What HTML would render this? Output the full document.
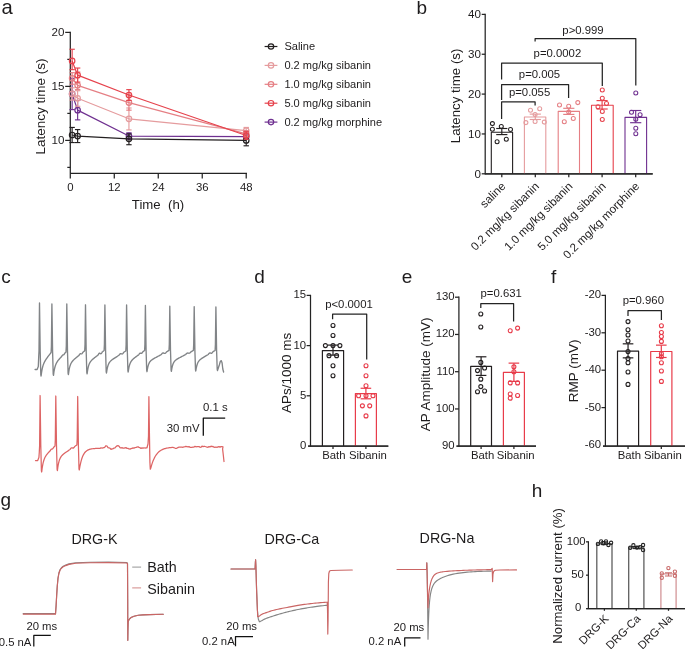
<!DOCTYPE html>
<html><head><meta charset="utf-8"><style>
html,body{margin:0;padding:0;background:#fff;overflow:hidden;width:685px;height:649px;}
svg{display:block;font-family:"Liberation Sans", sans-serif;will-change:transform;}
</style></head><body>
<svg width="685" height="649" viewBox="0 0 685 649">
<rect width="685" height="649" fill="#fff"/>
<text x="1.60" y="14.00" font-size="20.2" text-anchor="start" fill="#1e1c1d" >a</text>
<text x="416.60" y="13.90" font-size="19" text-anchor="start" fill="#1e1c1d" >b</text>
<text x="1.20" y="282.80" font-size="19" text-anchor="start" fill="#1e1c1d" >c</text>
<text x="254.30" y="282.70" font-size="19" text-anchor="start" fill="#1e1c1d" >d</text>
<text x="401.80" y="282.80" font-size="19" text-anchor="start" fill="#1e1c1d" >e</text>
<text x="551.00" y="282.80" font-size="19" text-anchor="start" fill="#1e1c1d" >f</text>
<text x="0.50" y="506.40" font-size="19" text-anchor="start" fill="#1e1c1d" >g</text>
<text x="531.70" y="496.70" font-size="19" text-anchor="start" fill="#1e1c1d" >h</text>
<line x1="70.30" y1="31.80" x2="70.30" y2="178.60" stroke="#242424" stroke-width="1.25"/>
<line x1="70.30" y1="173.30" x2="247.00" y2="173.30" stroke="#242424" stroke-width="1.25"/>
<line x1="65.20" y1="140.40" x2="70.30" y2="140.40" stroke="#242424" stroke-width="1.25"/>
<text x="64.50" y="144.35" font-size="11.6" text-anchor="end" fill="#1e1c1d" >10</text>
<line x1="65.20" y1="86.40" x2="70.30" y2="86.40" stroke="#242424" stroke-width="1.25"/>
<text x="64.50" y="90.35" font-size="11.6" text-anchor="end" fill="#1e1c1d" >15</text>
<line x1="65.20" y1="32.40" x2="70.30" y2="32.40" stroke="#242424" stroke-width="1.25"/>
<text x="64.50" y="36.35" font-size="11.6" text-anchor="end" fill="#1e1c1d" >20</text>
<line x1="67.30" y1="167.40" x2="70.30" y2="167.40" stroke="#242424" stroke-width="1.25"/>
<line x1="67.30" y1="113.40" x2="70.30" y2="113.40" stroke="#242424" stroke-width="1.25"/>
<line x1="67.30" y1="59.40" x2="70.30" y2="59.40" stroke="#242424" stroke-width="1.25"/>
<line x1="114.28" y1="173.30" x2="114.28" y2="178.60" stroke="#242424" stroke-width="1.25"/>
<line x1="158.26" y1="173.30" x2="158.26" y2="178.60" stroke="#242424" stroke-width="1.25"/>
<line x1="202.24" y1="173.30" x2="202.24" y2="178.60" stroke="#242424" stroke-width="1.25"/>
<line x1="246.22" y1="173.30" x2="246.22" y2="178.60" stroke="#242424" stroke-width="1.25"/>
<text x="70.30" y="190.60" font-size="11.35" text-anchor="middle" fill="#1e1c1d" >0</text>
<text x="114.28" y="190.60" font-size="11.35" text-anchor="middle" fill="#1e1c1d" >12</text>
<text x="158.26" y="190.60" font-size="11.35" text-anchor="middle" fill="#1e1c1d" >24</text>
<text x="202.24" y="190.60" font-size="11.35" text-anchor="middle" fill="#1e1c1d" >36</text>
<text x="246.22" y="190.60" font-size="11.35" text-anchor="middle" fill="#1e1c1d" >48</text>
<text x="158.00" y="209.30" font-size="13.2" text-anchor="middle" fill="#1e1c1d" >Time&#160;&#160;(h)</text>
<text transform="translate(45.00,106.50) rotate(-90)" font-size="13.5" text-anchor="middle" fill="#1e1c1d">Latency time (s)</text>
<polyline points="72.13,93.96 77.63,110.16 128.94,136.08 246.22,136.62" fill="none" stroke="#6f3090" stroke-width="1.2" stroke-linejoin="round" />
<line x1="72.13" y1="78.30" x2="72.13" y2="109.62" stroke="#6f3090" stroke-width="1.15"/>
<line x1="69.43" y1="78.30" x2="74.83" y2="78.30" stroke="#6f3090" stroke-width="1.15"/>
<line x1="69.43" y1="109.62" x2="74.83" y2="109.62" stroke="#6f3090" stroke-width="1.15"/>
<circle cx="72.13" cy="93.96" r="2.75" fill="none" stroke="#6f3090" stroke-width="1.2"/>
<line x1="77.63" y1="100.44" x2="77.63" y2="119.88" stroke="#6f3090" stroke-width="1.15"/>
<line x1="74.93" y1="100.44" x2="80.33" y2="100.44" stroke="#6f3090" stroke-width="1.15"/>
<line x1="74.93" y1="119.88" x2="80.33" y2="119.88" stroke="#6f3090" stroke-width="1.15"/>
<circle cx="77.63" cy="110.16" r="2.75" fill="none" stroke="#6f3090" stroke-width="1.2"/>
<line x1="128.94" y1="132.84" x2="128.94" y2="139.32" stroke="#6f3090" stroke-width="1.15"/>
<line x1="126.24" y1="132.84" x2="131.64" y2="132.84" stroke="#6f3090" stroke-width="1.15"/>
<line x1="126.24" y1="139.32" x2="131.64" y2="139.32" stroke="#6f3090" stroke-width="1.15"/>
<circle cx="128.94" cy="136.08" r="2.75" fill="none" stroke="#6f3090" stroke-width="1.2"/>
<line x1="246.22" y1="133.92" x2="246.22" y2="139.32" stroke="#6f3090" stroke-width="1.15"/>
<line x1="243.52" y1="133.92" x2="248.92" y2="133.92" stroke="#6f3090" stroke-width="1.15"/>
<line x1="243.52" y1="139.32" x2="248.92" y2="139.32" stroke="#6f3090" stroke-width="1.15"/>
<circle cx="246.22" cy="136.62" r="2.75" fill="none" stroke="#6f3090" stroke-width="1.2"/>
<polyline points="72.13,135.00 77.63,136.08 128.94,138.78 246.22,140.40" fill="none" stroke="#231f20" stroke-width="1.2" stroke-linejoin="round" />
<line x1="72.13" y1="127.44" x2="72.13" y2="142.56" stroke="#231f20" stroke-width="1.15"/>
<line x1="69.43" y1="127.44" x2="74.83" y2="127.44" stroke="#231f20" stroke-width="1.15"/>
<line x1="69.43" y1="142.56" x2="74.83" y2="142.56" stroke="#231f20" stroke-width="1.15"/>
<circle cx="72.13" cy="135.00" r="2.75" fill="none" stroke="#231f20" stroke-width="1.2"/>
<line x1="77.63" y1="129.60" x2="77.63" y2="142.56" stroke="#231f20" stroke-width="1.15"/>
<line x1="74.93" y1="129.60" x2="80.33" y2="129.60" stroke="#231f20" stroke-width="1.15"/>
<line x1="74.93" y1="142.56" x2="80.33" y2="142.56" stroke="#231f20" stroke-width="1.15"/>
<circle cx="77.63" cy="136.08" r="2.75" fill="none" stroke="#231f20" stroke-width="1.2"/>
<line x1="128.94" y1="133.92" x2="128.94" y2="144.72" stroke="#231f20" stroke-width="1.15"/>
<line x1="126.24" y1="133.92" x2="131.64" y2="133.92" stroke="#231f20" stroke-width="1.15"/>
<line x1="126.24" y1="144.72" x2="131.64" y2="144.72" stroke="#231f20" stroke-width="1.15"/>
<circle cx="128.94" cy="138.78" r="2.75" fill="none" stroke="#231f20" stroke-width="1.2"/>
<line x1="246.22" y1="136.08" x2="246.22" y2="145.80" stroke="#231f20" stroke-width="1.15"/>
<line x1="243.52" y1="136.08" x2="248.92" y2="136.08" stroke="#231f20" stroke-width="1.15"/>
<line x1="243.52" y1="145.80" x2="248.92" y2="145.80" stroke="#231f20" stroke-width="1.15"/>
<circle cx="246.22" cy="140.40" r="2.75" fill="none" stroke="#231f20" stroke-width="1.2"/>
<polyline points="72.13,93.96 77.63,98.28 128.94,118.80 246.22,130.68" fill="none" stroke="#e59c9e" stroke-width="1.2" stroke-linejoin="round" />
<line x1="72.13" y1="87.80" x2="72.13" y2="100.12" stroke="#e59c9e" stroke-width="1.15"/>
<line x1="69.43" y1="87.80" x2="74.83" y2="87.80" stroke="#e59c9e" stroke-width="1.15"/>
<line x1="69.43" y1="100.12" x2="74.83" y2="100.12" stroke="#e59c9e" stroke-width="1.15"/>
<circle cx="72.13" cy="93.96" r="2.75" fill="none" stroke="#e59c9e" stroke-width="1.2"/>
<line x1="77.63" y1="90.72" x2="77.63" y2="106.27" stroke="#e59c9e" stroke-width="1.15"/>
<line x1="74.93" y1="90.72" x2="80.33" y2="90.72" stroke="#e59c9e" stroke-width="1.15"/>
<line x1="74.93" y1="106.27" x2="80.33" y2="106.27" stroke="#e59c9e" stroke-width="1.15"/>
<circle cx="77.63" cy="98.28" r="2.75" fill="none" stroke="#e59c9e" stroke-width="1.2"/>
<line x1="128.94" y1="108.00" x2="128.94" y2="129.92" stroke="#e59c9e" stroke-width="1.15"/>
<line x1="126.24" y1="108.00" x2="131.64" y2="108.00" stroke="#e59c9e" stroke-width="1.15"/>
<line x1="126.24" y1="129.92" x2="131.64" y2="129.92" stroke="#e59c9e" stroke-width="1.15"/>
<circle cx="128.94" cy="118.80" r="2.75" fill="none" stroke="#e59c9e" stroke-width="1.2"/>
<line x1="246.22" y1="127.44" x2="246.22" y2="133.92" stroke="#e59c9e" stroke-width="1.15"/>
<line x1="243.52" y1="127.44" x2="248.92" y2="127.44" stroke="#e59c9e" stroke-width="1.15"/>
<line x1="243.52" y1="133.92" x2="248.92" y2="133.92" stroke="#e59c9e" stroke-width="1.15"/>
<circle cx="246.22" cy="130.68" r="2.75" fill="none" stroke="#e59c9e" stroke-width="1.2"/>
<polyline points="72.13,78.30 77.63,85.32 128.94,102.60 246.22,133.92" fill="none" stroke="#e57f84" stroke-width="1.2" stroke-linejoin="round" />
<line x1="72.13" y1="72.68" x2="72.13" y2="84.24" stroke="#e57f84" stroke-width="1.15"/>
<line x1="69.43" y1="72.68" x2="74.83" y2="72.68" stroke="#e57f84" stroke-width="1.15"/>
<line x1="69.43" y1="84.24" x2="74.83" y2="84.24" stroke="#e57f84" stroke-width="1.15"/>
<circle cx="72.13" cy="78.30" r="2.75" fill="none" stroke="#e57f84" stroke-width="1.2"/>
<line x1="77.63" y1="72.04" x2="77.63" y2="89.64" stroke="#e57f84" stroke-width="1.15"/>
<line x1="74.93" y1="72.04" x2="80.33" y2="72.04" stroke="#e57f84" stroke-width="1.15"/>
<line x1="74.93" y1="89.64" x2="80.33" y2="89.64" stroke="#e57f84" stroke-width="1.15"/>
<circle cx="77.63" cy="85.32" r="2.75" fill="none" stroke="#e57f84" stroke-width="1.2"/>
<line x1="128.94" y1="95.04" x2="128.94" y2="110.16" stroke="#e57f84" stroke-width="1.15"/>
<line x1="126.24" y1="95.04" x2="131.64" y2="95.04" stroke="#e57f84" stroke-width="1.15"/>
<line x1="126.24" y1="110.16" x2="131.64" y2="110.16" stroke="#e57f84" stroke-width="1.15"/>
<circle cx="128.94" cy="102.60" r="2.75" fill="none" stroke="#e57f84" stroke-width="1.2"/>
<line x1="246.22" y1="130.68" x2="246.22" y2="137.16" stroke="#e57f84" stroke-width="1.15"/>
<line x1="243.52" y1="130.68" x2="248.92" y2="130.68" stroke="#e57f84" stroke-width="1.15"/>
<line x1="243.52" y1="137.16" x2="248.92" y2="137.16" stroke="#e57f84" stroke-width="1.15"/>
<circle cx="246.22" cy="133.92" r="2.75" fill="none" stroke="#e57f84" stroke-width="1.2"/>
<polyline points="72.13,60.91 77.63,75.17 128.94,95.04 246.22,135.54" fill="none" stroke="#e6424c" stroke-width="1.2" stroke-linejoin="round" />
<line x1="72.13" y1="49.25" x2="72.13" y2="69.66" stroke="#e6424c" stroke-width="1.15"/>
<line x1="69.43" y1="49.25" x2="74.83" y2="49.25" stroke="#e6424c" stroke-width="1.15"/>
<line x1="69.43" y1="69.66" x2="74.83" y2="69.66" stroke="#e6424c" stroke-width="1.15"/>
<circle cx="72.13" cy="60.91" r="2.75" fill="none" stroke="#e6424c" stroke-width="1.2"/>
<line x1="77.63" y1="68.04" x2="77.63" y2="82.08" stroke="#e6424c" stroke-width="1.15"/>
<line x1="74.93" y1="68.04" x2="80.33" y2="68.04" stroke="#e6424c" stroke-width="1.15"/>
<line x1="74.93" y1="82.08" x2="80.33" y2="82.08" stroke="#e6424c" stroke-width="1.15"/>
<circle cx="77.63" cy="75.17" r="2.75" fill="none" stroke="#e6424c" stroke-width="1.2"/>
<line x1="128.94" y1="89.64" x2="128.94" y2="100.44" stroke="#e6424c" stroke-width="1.15"/>
<line x1="126.24" y1="89.64" x2="131.64" y2="89.64" stroke="#e6424c" stroke-width="1.15"/>
<line x1="126.24" y1="100.44" x2="131.64" y2="100.44" stroke="#e6424c" stroke-width="1.15"/>
<circle cx="128.94" cy="95.04" r="2.75" fill="none" stroke="#e6424c" stroke-width="1.2"/>
<line x1="246.22" y1="131.76" x2="246.22" y2="139.32" stroke="#e6424c" stroke-width="1.15"/>
<line x1="243.52" y1="131.76" x2="248.92" y2="131.76" stroke="#e6424c" stroke-width="1.15"/>
<line x1="243.52" y1="139.32" x2="248.92" y2="139.32" stroke="#e6424c" stroke-width="1.15"/>
<circle cx="246.22" cy="135.54" r="2.75" fill="none" stroke="#e6424c" stroke-width="1.2"/>
<line x1="264.60" y1="46.50" x2="277.40" y2="46.50" stroke="#231f20" stroke-width="1.2"/>
<circle cx="271.00" cy="46.50" r="2.7" fill="none" stroke="#231f20" stroke-width="1.2"/>
<text x="284.40" y="50.30" font-size="11.05" text-anchor="start" fill="#1e1c1d" >Saline</text>
<line x1="264.60" y1="65.40" x2="277.40" y2="65.40" stroke="#e59c9e" stroke-width="1.2"/>
<circle cx="271.00" cy="65.40" r="2.7" fill="none" stroke="#e59c9e" stroke-width="1.2"/>
<text x="284.40" y="69.20" font-size="11.05" text-anchor="start" fill="#1e1c1d" >0.2 mg/kg sibanin</text>
<line x1="264.60" y1="84.30" x2="277.40" y2="84.30" stroke="#e57f84" stroke-width="1.2"/>
<circle cx="271.00" cy="84.30" r="2.7" fill="none" stroke="#e57f84" stroke-width="1.2"/>
<text x="284.40" y="88.10" font-size="11.05" text-anchor="start" fill="#1e1c1d" >1.0 mg/kg sibanin</text>
<line x1="264.60" y1="103.20" x2="277.40" y2="103.20" stroke="#e6424c" stroke-width="1.2"/>
<circle cx="271.00" cy="103.20" r="2.7" fill="none" stroke="#e6424c" stroke-width="1.2"/>
<text x="284.40" y="107.00" font-size="11.05" text-anchor="start" fill="#1e1c1d" >5.0 mg/kg sibanin</text>
<line x1="264.60" y1="122.10" x2="277.40" y2="122.10" stroke="#6f3090" stroke-width="1.2"/>
<circle cx="271.00" cy="122.10" r="2.7" fill="none" stroke="#6f3090" stroke-width="1.2"/>
<text x="284.40" y="125.90" font-size="11.05" text-anchor="start" fill="#1e1c1d" >0.2 mg/kg morphine</text>
<line x1="485.20" y1="13.80" x2="485.20" y2="174.40" stroke="#242424" stroke-width="1.25"/>
<line x1="485.20" y1="173.80" x2="652.70" y2="173.80" stroke="#242424" stroke-width="1.25"/>
<line x1="481.70" y1="173.80" x2="485.20" y2="173.80" stroke="#242424" stroke-width="1.25"/>
<text x="480.90" y="177.80" font-size="11.6" text-anchor="end" fill="#1e1c1d" >0</text>
<line x1="481.70" y1="133.95" x2="485.20" y2="133.95" stroke="#242424" stroke-width="1.25"/>
<text x="480.90" y="137.95" font-size="11.6" text-anchor="end" fill="#1e1c1d" >10</text>
<line x1="481.70" y1="94.10" x2="485.20" y2="94.10" stroke="#242424" stroke-width="1.25"/>
<text x="480.90" y="98.10" font-size="11.6" text-anchor="end" fill="#1e1c1d" >20</text>
<line x1="481.70" y1="54.25" x2="485.20" y2="54.25" stroke="#242424" stroke-width="1.25"/>
<text x="480.90" y="58.25" font-size="11.6" text-anchor="end" fill="#1e1c1d" >30</text>
<line x1="481.70" y1="14.40" x2="485.20" y2="14.40" stroke="#242424" stroke-width="1.25"/>
<text x="480.90" y="18.40" font-size="11.6" text-anchor="end" fill="#1e1c1d" >40</text>
<text transform="translate(460.00,95.90) rotate(-90)" font-size="13.3" text-anchor="middle" fill="#1e1c1d">Latency time (s)</text>
<polyline points="491.30,173.80 491.30,132.30 512.60,132.30 512.60,173.80" fill="none" stroke="#231f20" stroke-width="1.1" stroke-linejoin="round" stroke-linejoin="miter"/>
<line x1="501.80" y1="173.80" x2="501.80" y2="177.20" stroke="#242424" stroke-width="1.25"/>
<circle cx="492.40" cy="123.60" r="2.0" fill="none" stroke="#231f20" stroke-width="1.05"/>
<circle cx="492.40" cy="129.20" r="2.0" fill="none" stroke="#231f20" stroke-width="1.05"/>
<circle cx="501.30" cy="126.40" r="2.0" fill="none" stroke="#231f20" stroke-width="1.05"/>
<circle cx="510.50" cy="129.50" r="2.0" fill="none" stroke="#231f20" stroke-width="1.05"/>
<circle cx="497.10" cy="141.80" r="2.0" fill="none" stroke="#231f20" stroke-width="1.05"/>
<circle cx="506.30" cy="139.20" r="2.0" fill="none" stroke="#231f20" stroke-width="1.05"/>
<line x1="501.80" y1="128.50" x2="501.80" y2="134.60" stroke="#231f20" stroke-width="1.15"/>
<line x1="496.20" y1="128.50" x2="507.40" y2="128.50" stroke="#231f20" stroke-width="1.15"/>
<line x1="496.20" y1="134.60" x2="507.40" y2="134.60" stroke="#231f20" stroke-width="1.15"/>
<text transform="translate(506.20,187.00) rotate(-45)" font-size="11.6" text-anchor="end" fill="#1e1c1d">saline</text>
<polyline points="524.40,173.80 524.40,117.00 545.80,117.00 545.80,173.80" fill="none" stroke="#e59c9e" stroke-width="1.1" stroke-linejoin="round" stroke-linejoin="miter"/>
<line x1="535.30" y1="173.80" x2="535.30" y2="177.20" stroke="#242424" stroke-width="1.25"/>
<circle cx="530.50" cy="110.30" r="2.0" fill="none" stroke="#e59c9e" stroke-width="1.05"/>
<circle cx="539.70" cy="108.80" r="2.0" fill="none" stroke="#e59c9e" stroke-width="1.05"/>
<circle cx="535.10" cy="114.40" r="2.0" fill="none" stroke="#e59c9e" stroke-width="1.05"/>
<circle cx="525.90" cy="122.60" r="2.0" fill="none" stroke="#e59c9e" stroke-width="1.05"/>
<circle cx="535.10" cy="121.40" r="2.0" fill="none" stroke="#e59c9e" stroke-width="1.05"/>
<circle cx="544.30" cy="122.10" r="2.0" fill="none" stroke="#e59c9e" stroke-width="1.05"/>
<line x1="535.30" y1="114.10" x2="535.30" y2="119.50" stroke="#e59c9e" stroke-width="1.15"/>
<line x1="529.70" y1="114.10" x2="540.90" y2="114.10" stroke="#e59c9e" stroke-width="1.15"/>
<line x1="529.70" y1="119.50" x2="540.90" y2="119.50" stroke="#e59c9e" stroke-width="1.15"/>
<text transform="translate(539.70,187.00) rotate(-45)" font-size="11.6" text-anchor="end" fill="#1e1c1d">0.2 mg/kg sibanin</text>
<polyline points="558.20,173.80 558.20,111.40 579.50,111.40 579.50,173.80" fill="none" stroke="#e57f84" stroke-width="1.1" stroke-linejoin="round" stroke-linejoin="miter"/>
<line x1="568.80" y1="173.80" x2="568.80" y2="177.20" stroke="#242424" stroke-width="1.25"/>
<circle cx="559.50" cy="104.90" r="2.0" fill="none" stroke="#e57f84" stroke-width="1.05"/>
<circle cx="568.70" cy="106.30" r="2.0" fill="none" stroke="#e57f84" stroke-width="1.05"/>
<circle cx="577.80" cy="102.60" r="2.0" fill="none" stroke="#e57f84" stroke-width="1.05"/>
<circle cx="568.70" cy="112.10" r="2.0" fill="none" stroke="#e57f84" stroke-width="1.05"/>
<circle cx="564.30" cy="121.80" r="2.0" fill="none" stroke="#e57f84" stroke-width="1.05"/>
<circle cx="573.30" cy="118.50" r="2.0" fill="none" stroke="#e57f84" stroke-width="1.05"/>
<line x1="568.80" y1="108.30" x2="568.80" y2="114.40" stroke="#e57f84" stroke-width="1.15"/>
<line x1="563.20" y1="108.30" x2="574.40" y2="108.30" stroke="#e57f84" stroke-width="1.15"/>
<line x1="563.20" y1="114.40" x2="574.40" y2="114.40" stroke="#e57f84" stroke-width="1.15"/>
<text transform="translate(573.20,187.00) rotate(-45)" font-size="11.6" text-anchor="end" fill="#1e1c1d">1.0 mg/kg sibanin</text>
<polyline points="591.50,173.80 591.50,105.20 613.20,105.20 613.20,173.80" fill="none" stroke="#e6424c" stroke-width="1.1" stroke-linejoin="round" stroke-linejoin="miter"/>
<line x1="602.10" y1="173.80" x2="602.10" y2="177.20" stroke="#242424" stroke-width="1.25"/>
<circle cx="602.30" cy="89.90" r="2.0" fill="none" stroke="#e6424c" stroke-width="1.05"/>
<circle cx="602.30" cy="98.30" r="2.0" fill="none" stroke="#e6424c" stroke-width="1.05"/>
<circle cx="606.50" cy="103.40" r="2.0" fill="none" stroke="#e6424c" stroke-width="1.05"/>
<circle cx="598.00" cy="106.70" r="2.0" fill="none" stroke="#e6424c" stroke-width="1.05"/>
<circle cx="602.30" cy="111.40" r="2.0" fill="none" stroke="#e6424c" stroke-width="1.05"/>
<circle cx="602.30" cy="119.40" r="2.0" fill="none" stroke="#e6424c" stroke-width="1.05"/>
<line x1="602.10" y1="100.60" x2="602.10" y2="109.00" stroke="#e6424c" stroke-width="1.15"/>
<line x1="596.50" y1="100.60" x2="607.70" y2="100.60" stroke="#e6424c" stroke-width="1.15"/>
<line x1="596.50" y1="109.00" x2="607.70" y2="109.00" stroke="#e6424c" stroke-width="1.15"/>
<text transform="translate(606.50,187.00) rotate(-45)" font-size="11.6" text-anchor="end" fill="#1e1c1d">5.0 mg/kg sibanin</text>
<polyline points="625.00,173.80 625.00,117.40 646.60,117.40 646.60,173.80" fill="none" stroke="#6f3090" stroke-width="1.1" stroke-linejoin="round" stroke-linejoin="miter"/>
<line x1="635.70" y1="173.80" x2="635.70" y2="177.20" stroke="#242424" stroke-width="1.25"/>
<circle cx="635.80" cy="92.90" r="2.0" fill="none" stroke="#6f3090" stroke-width="1.05"/>
<circle cx="631.50" cy="112.30" r="2.0" fill="none" stroke="#6f3090" stroke-width="1.05"/>
<circle cx="640.10" cy="114.70" r="2.0" fill="none" stroke="#6f3090" stroke-width="1.05"/>
<circle cx="635.80" cy="119.30" r="2.0" fill="none" stroke="#6f3090" stroke-width="1.05"/>
<circle cx="635.80" cy="128.20" r="2.0" fill="none" stroke="#6f3090" stroke-width="1.05"/>
<circle cx="635.80" cy="133.80" r="2.0" fill="none" stroke="#6f3090" stroke-width="1.05"/>
<line x1="635.70" y1="110.50" x2="635.70" y2="122.70" stroke="#6f3090" stroke-width="1.15"/>
<line x1="630.10" y1="110.50" x2="641.30" y2="110.50" stroke="#6f3090" stroke-width="1.15"/>
<line x1="630.10" y1="122.70" x2="641.30" y2="122.70" stroke="#6f3090" stroke-width="1.15"/>
<text transform="translate(640.10,187.00) rotate(-45)" font-size="11.6" text-anchor="end" fill="#1e1c1d">0.2 mg/kg morphine</text>
<line x1="485.20" y1="173.80" x2="652.70" y2="173.80" stroke="#242424" stroke-width="1.25"/>
<polyline points="501.60,119.00 501.60,101.90 535.10,101.90 535.10,105.60" fill="none" stroke="#242424" stroke-width="1.25" stroke-linejoin="round" stroke-linejoin="miter"/>
<polyline points="501.60,100.00 501.60,84.50 568.60,84.50 568.60,98.10" fill="none" stroke="#242424" stroke-width="1.25" stroke-linejoin="round" stroke-linejoin="miter"/>
<polyline points="501.60,79.50 501.60,63.00 602.30,63.00 602.30,86.00" fill="none" stroke="#242424" stroke-width="1.25" stroke-linejoin="round" stroke-linejoin="miter"/>
<polyline points="535.10,41.50 535.10,38.50 635.80,38.50 635.80,85.50" fill="none" stroke="#242424" stroke-width="1.25" stroke-linejoin="round" stroke-linejoin="miter"/>
<text x="529.60" y="95.70" font-size="11.35" text-anchor="middle" fill="#1e1c1d" >p=0.055</text>
<text x="539.50" y="77.60" font-size="11.35" text-anchor="middle" fill="#1e1c1d" >p=0.005</text>
<text x="557.40" y="56.70" font-size="11.35" text-anchor="middle" fill="#1e1c1d" >p=0.0002</text>
<text x="583.00" y="33.60" font-size="11.35" text-anchor="middle" fill="#1e1c1d" >p&gt;0.999</text>
<path d="M35.10,369.50 L37.10,369.50 L38.30,366.50 L38.70,357.00 L39.00,351.00 L39.50,303.00 L40.20,351.50 L40.80,374.80 L41.10,376.00 L41.50,372.85 L41.90,370.36 L42.30,368.36 L42.70,366.72 L43.10,365.37 L43.50,364.22 L43.90,363.23 L44.30,362.36 L44.70,361.57 L45.10,360.85 L45.50,360.19 L45.90,359.56 L46.30,358.95 L46.70,358.37 L47.10,357.81 L47.50,357.25 L47.90,356.71 L48.30,356.17 L48.70,355.64 L49.10,355.11 L49.50,354.59 L49.90,354.06 L50.30,353.54 L50.70,353.02 L51.10,352.50 L51.40,346.50 L51.90,304.00 L52.60,351.65 L53.20,374.10 L53.50,375.30 L53.90,372.26 L54.31,369.88 L54.71,367.99 L55.11,366.47 L55.52,365.23 L55.92,364.20 L56.32,363.32 L56.73,362.55 L57.13,361.88 L57.53,361.27 L57.94,360.71 L58.34,360.18 L58.74,359.69 L59.15,359.21 L59.55,358.75 L59.95,358.30 L60.35,357.86 L60.76,357.43 L61.16,357.00 L61.56,356.58 L61.97,355.85 L62.37,355.27 L62.77,355.01 L63.18,354.95 L63.58,354.87 L63.98,354.53 L64.39,353.88 L64.79,353.24 L65.19,352.83 L65.60,352.41 L66.00,352.00 L66.30,346.00 L66.80,304.00 L67.50,351.30 L68.10,373.40 L68.40,374.60 L68.81,371.57 L69.21,369.22 L69.62,367.38 L70.03,365.92 L70.44,364.75 L70.84,363.79 L71.25,363.00 L71.66,362.32 L72.07,361.72 L72.47,361.20 L72.88,360.73 L73.29,360.29 L73.70,359.88 L74.10,359.49 L74.51,359.12 L74.92,358.76 L75.33,358.40 L75.73,358.06 L76.14,357.71 L76.55,357.38 L76.96,357.04 L77.36,356.71 L77.77,356.38 L78.18,356.05 L78.59,355.72 L79.00,355.39 L79.40,354.62 L79.81,354.04 L80.22,353.74 L80.62,353.72 L81.03,353.84 L81.44,353.92 L81.85,353.80 L82.25,353.38 L82.66,352.71 L83.07,352.11 L83.48,351.78 L83.89,351.45 L84.29,351.13 L84.70,350.80 L85.00,344.80 L85.50,304.80 L86.20,351.30 L86.80,372.60 L87.10,373.80 L87.50,370.86 L87.91,368.59 L88.31,366.80 L88.72,365.39 L89.12,364.26 L89.53,363.33 L89.93,362.56 L90.34,361.91 L90.74,361.35 L91.15,360.85 L91.55,360.39 L91.96,359.98 L92.36,359.59 L92.77,359.23 L93.17,358.88 L93.58,358.54 L93.98,358.20 L94.39,357.88 L94.79,357.56 L95.20,357.24 L95.60,356.93 L96.00,356.62 L96.41,356.31 L96.81,356.00 L97.22,355.69 L97.62,355.39 L98.03,355.08 L98.43,354.38 L98.84,353.66 L99.24,353.24 L99.65,353.17 L100.05,353.36 L100.46,353.62 L100.86,353.74 L101.27,353.56 L101.67,353.04 L102.08,352.24 L102.48,351.72 L102.89,351.42 L103.29,351.11 L103.70,350.81 L104.10,350.50 L104.40,344.50 L104.90,305.00 L105.60,351.00 L106.20,371.80 L106.50,373.00 L106.90,370.28 L107.30,368.17 L107.71,366.53 L108.11,365.23 L108.51,364.19 L108.91,363.35 L109.31,362.66 L109.72,362.08 L110.12,361.58 L110.52,361.14 L110.92,360.75 L111.33,360.39 L111.73,360.06 L112.13,359.75 L112.53,359.45 L112.93,359.17 L113.34,358.89 L113.74,358.62 L114.14,358.35 L114.54,358.09 L114.94,357.83 L115.35,357.57 L115.75,357.32 L116.15,357.06 L116.55,356.81 L116.95,356.55 L117.36,356.30 L117.76,356.04 L118.16,355.79 L118.56,355.54 L118.96,355.29 L119.37,354.71 L119.77,354.14 L120.17,353.76 L120.57,353.60 L120.97,353.64 L121.38,353.79 L121.78,353.93 L122.18,353.96 L122.58,353.78 L122.99,353.39 L123.39,352.81 L123.79,352.26 L124.19,352.01 L124.59,351.76 L125.00,351.50 L125.40,351.25 L125.80,351.00 L126.10,345.00 L126.60,305.00 L127.30,350.50 L127.90,370.80 L128.20,372.00 L128.60,369.31 L129.00,367.21 L129.40,365.57 L129.80,364.26 L130.20,363.20 L130.60,362.34 L131.00,361.62 L131.40,361.00 L131.80,360.47 L132.20,360.00 L132.60,359.57 L133.00,359.18 L133.40,358.81 L133.80,358.46 L134.20,358.13 L134.60,357.81 L135.00,357.50 L135.40,357.19 L135.80,356.89 L136.20,356.59 L136.60,356.29 L137.00,356.00 L137.40,355.70 L137.80,355.41 L138.20,355.12 L138.60,354.83 L139.00,354.40 L139.40,353.76 L139.80,353.32 L140.20,353.13 L140.60,353.16 L141.00,353.27 L141.40,353.32 L141.80,353.16 L142.20,352.76 L142.60,352.14 L143.00,351.65 L143.40,351.37 L143.80,351.08 L144.20,350.79 L144.60,350.50 L144.90,344.50 L145.40,305.40 L146.10,350.55 L146.70,370.50 L147.00,371.70 L147.40,369.12 L147.80,367.12 L148.20,365.57 L148.60,364.35 L149.00,363.39 L149.40,362.61 L149.80,361.97 L150.20,361.43 L150.60,360.98 L151.00,360.59 L151.40,360.24 L151.80,359.93 L152.20,359.64 L152.60,359.37 L153.00,359.11 L153.40,358.87 L153.80,358.63 L154.20,358.40 L154.60,358.17 L155.00,357.95 L155.40,357.73 L155.80,357.51 L156.20,357.30 L156.60,357.08 L157.00,356.87 L157.40,356.65 L157.80,356.44 L158.20,356.23 L158.60,356.01 L159.00,355.80 L159.40,355.59 L159.80,355.38 L160.20,355.16 L160.60,354.95 L161.00,354.74 L161.40,354.43 L161.80,353.84 L162.20,353.36 L162.60,353.04 L163.00,352.92 L163.40,352.96 L163.80,353.12 L164.20,353.30 L164.60,353.43 L165.00,353.43 L165.40,353.24 L165.80,352.87 L166.20,352.35 L166.60,351.77 L167.00,351.56 L167.40,351.35 L167.80,351.14 L168.20,350.92 L168.60,350.71 L169.00,350.50 L169.30,344.50 L169.80,306.20 L170.50,350.75 L171.10,370.10 L171.40,371.30 L171.81,368.72 L172.21,366.75 L172.62,365.21 L173.03,364.02 L173.44,363.07 L173.84,362.30 L174.25,361.68 L174.66,361.16 L175.07,360.72 L175.47,360.33 L175.88,359.99 L176.29,359.68 L176.70,359.40 L177.10,359.13 L177.51,358.88 L177.92,358.64 L178.33,358.41 L178.73,358.18 L179.14,357.95 L179.55,357.73 L179.96,357.51 L180.36,357.29 L180.77,357.08 L181.18,356.86 L181.59,356.65 L181.99,356.44 L182.40,356.22 L182.81,356.01 L183.21,355.80 L183.62,355.59 L184.03,355.37 L184.44,355.16 L184.84,354.95 L185.25,354.74 L185.66,354.53 L186.07,354.05 L186.47,353.60 L186.88,353.27 L187.29,353.09 L187.70,353.03 L188.10,353.08 L188.51,353.17 L188.92,353.23 L189.33,353.19 L189.73,353.03 L190.14,352.72 L190.55,352.29 L190.96,351.79 L191.36,351.56 L191.77,351.35 L192.18,351.14 L192.59,350.92 L192.99,350.71 L193.40,350.50 L193.70,344.50 L194.20,306.60 L194.90,350.80 L195.50,369.80 L195.80,371.00 L196.20,368.46 L196.60,366.50 L197.01,364.97 L197.41,363.76 L197.81,362.79 L198.21,362.01 L198.61,361.37 L199.02,360.82 L199.42,360.36 L199.82,359.95 L200.22,359.58 L200.62,359.25 L201.03,358.94 L201.43,358.65 L201.83,358.38 L202.23,358.11 L202.64,357.85 L203.04,357.60 L203.44,357.35 L203.84,357.11 L204.24,356.86 L204.65,356.62 L205.05,356.38 L205.45,356.15 L205.85,355.91 L206.25,355.67 L206.66,355.44 L207.06,355.20 L207.46,354.97 L207.86,354.73 L208.26,354.49 L208.67,353.96 L209.07,353.43 L209.47,353.07 L209.87,352.92 L210.27,352.96 L210.68,353.10 L211.08,353.23 L211.48,353.26 L211.88,353.09 L212.29,352.72 L212.69,352.18 L213.09,351.67 L213.49,351.44 L213.89,351.20 L214.30,350.97 L214.70,350.73 L215.10,350.50 L215.40,344.50 L215.90,307.00 L216.60,350.75 L217.20,369.30 L217.50,370.50 L219.30,365.00 L220.30,361.50 L221.30,360.60 L222.10,363.00 L222.80,369.00 L223.60,372.00" fill="none" stroke="#818487" stroke-width="1.35" stroke-linejoin="round" stroke-linecap="round"/>
<path d="M35.50,460.50 L37.70,460.50 L38.90,457.50 L39.30,452.00 L39.60,446.00 L40.10,395.50 L40.80,445.75 L41.40,470.80 L41.70,472.00 L42.10,468.71 L42.51,466.07 L42.91,463.92 L43.31,462.17 L43.72,460.72 L44.12,459.50 L44.52,458.47 L44.92,457.58 L45.33,456.80 L45.73,456.10 L46.13,455.48 L46.54,454.90 L46.94,454.37 L47.34,453.86 L47.75,453.38 L48.15,452.92 L48.55,452.48 L48.95,452.05 L49.36,451.62 L49.76,451.20 L50.16,450.79 L50.57,450.16 L50.97,449.49 L51.37,449.11 L51.78,449.01 L52.18,449.01 L52.58,448.87 L52.98,448.44 L53.39,447.73 L53.79,447.19 L54.19,446.79 L54.60,446.39 L55.00,446.00 L55.30,440.00 L55.80,396.00 L56.50,445.30 L57.10,469.40 L57.40,470.60 L57.81,467.46 L58.21,464.97 L58.62,462.98 L59.02,461.37 L59.43,460.06 L59.84,458.99 L60.24,458.10 L60.65,457.35 L61.06,456.70 L61.46,456.14 L61.87,455.65 L62.27,455.21 L62.68,454.81 L63.09,454.43 L63.49,454.08 L63.90,453.75 L64.31,453.44 L64.71,453.13 L65.12,452.84 L65.53,452.55 L65.93,452.26 L66.34,451.98 L66.74,451.70 L67.15,451.43 L67.56,451.16 L67.96,450.88 L68.37,450.61 L68.78,450.34 L69.18,450.07 L69.59,449.81 L69.99,449.54 L70.40,448.95 L70.81,448.36 L71.21,447.97 L71.62,447.80 L72.03,447.82 L72.43,447.95 L72.84,448.08 L73.24,448.09 L73.65,447.90 L74.06,447.49 L74.46,446.89 L74.87,446.33 L75.28,446.07 L75.68,445.80 L76.09,445.53 L76.49,445.27 L76.90,445.00 L77.20,439.00 L77.70,396.50 L78.40,445.25 L79.00,468.80 L79.30,470.00 L79.90,466.49 L80.50,463.55 L81.10,461.08 L81.70,459.01 L82.30,457.28 L82.90,455.83 L83.50,454.61 L84.10,453.59 L84.70,452.73 L85.30,452.02 L85.90,451.41 L86.50,450.91 L87.10,450.49 L87.70,450.13 L88.30,449.84 L88.90,449.59 L89.50,449.38 L90.10,449.21 L90.70,449.06 L91.30,448.94 L91.90,448.83 L92.50,448.75 L93.10,448.67 L93.70,448.61 L94.30,448.56 L94.90,448.52 L95.50,448.49 L96.10,448.46 L96.70,448.43 L97.30,448.41 L97.90,448.39 L98.50,448.38 L99.10,448.36 L99.70,448.35 L100.30,448.35 L101.00,447.76 L102.00,448.03 L103.00,447.80 L104.00,447.67 L105.00,446.89 L106.00,445.73 L107.00,446.00 L108.00,447.63 L109.00,447.76 L110.00,448.24 L111.00,449.37 L112.00,448.90 L113.00,448.80 L114.00,448.09 L115.00,447.90 L116.00,446.66 L117.00,445.82 L118.00,445.57 L119.00,446.23 L120.00,447.59 L121.00,448.04 L122.00,447.60 L123.00,448.23 L124.00,448.08 L125.00,447.82 L126.00,447.60 L127.00,448.45 L128.00,448.37 L129.00,448.94 L130.00,449.08 L131.00,448.59 L132.00,448.49 L133.00,447.91 L134.00,448.18 L135.00,447.52 L136.00,447.38 L137.00,447.04 L138.00,446.74 L139.00,447.34 L140.00,447.68 L141.00,448.41 L142.00,447.94 L143.00,448.11 L144.00,447.82 L145.00,448.01 L146.00,447.90 L147.00,447.87 L147.30,446.50 L148.00,444.00 L148.50,436.00 L148.90,396.70 L149.40,432.00 L149.90,462.00 L150.30,469.20 L150.80,468.00 L151.40,465.83 L152.00,463.88 L152.60,462.14 L153.20,460.57 L153.80,459.17 L154.40,457.91 L155.00,456.79 L155.60,455.77 L156.20,454.87 L156.80,454.05 L157.40,453.33 L158.00,452.67 L158.60,452.09 L159.20,451.56 L159.80,451.09 L160.40,450.67 L161.00,450.29 L161.60,449.95 L162.20,449.64 L162.80,449.37 L163.40,449.12 L164.00,448.91 L164.60,448.71 L165.20,448.53 L165.80,448.37 L166.40,448.23 L167.00,448.10 L167.60,447.99 L168.20,447.89 L168.80,447.80 L169.40,447.71 L170.00,447.64 L170.60,447.57 L171.20,447.52 L171.80,447.47 L172.40,447.44 L173.00,447.45 L173.60,447.54 L174.20,447.74 L174.80,448.04 L175.40,448.31 L176.00,448.41 L176.60,448.27 L177.20,447.94 L177.80,447.60 L178.40,447.34 L179.00,447.20 L179.60,447.13 L180.20,447.11 L181.00,447.08 L182.00,447.07 L183.00,447.30 L184.00,446.87 L185.00,446.65 L186.00,446.32 L187.00,446.71 L188.00,446.86 L189.00,446.63 L190.00,447.32 L191.00,447.42 L192.00,447.36 L193.00,447.03 L194.00,447.05 L195.00,446.37 L196.00,446.80 L197.00,446.70 L198.00,446.66 L199.00,446.57 L200.00,447.27 L201.00,447.24 L202.00,446.12 L203.00,446.57 L204.00,446.41 L205.00,446.48 L206.00,446.77 L207.00,447.24 L208.00,447.33 L209.00,446.55 L210.00,446.93 L211.00,446.15 L212.00,446.60 L213.00,446.41 L214.00,447.17 L215.00,447.40 L216.00,447.00 L217.00,447.45 L218.00,446.83 L219.00,446.62 L220.00,447.09 L221.00,446.58 L222.00,446.73 L223.00,446.92 L222.60,449.00 L223.40,456.00 L224.00,461.50" fill="none" stroke="#dd6464" stroke-width="1.25" stroke-linejoin="round" stroke-linecap="round"/>
<polyline points="203.30,435.80 203.30,418.20 225.20,418.20" fill="none" stroke="#111" stroke-width="1.3" stroke-linejoin="round" stroke-linejoin="miter"/>
<text x="203.00" y="410.90" font-size="11.4" text-anchor="start" fill="#1e1c1d" >0.1 s</text>
<text x="199.60" y="432.40" font-size="11.4" text-anchor="end" fill="#1e1c1d" >30 mV</text>
<line x1="310.50" y1="294.80" x2="310.50" y2="446.60" stroke="#242424" stroke-width="1.25"/>
<line x1="308.10" y1="446.00" x2="388.30" y2="446.00" stroke="#242424" stroke-width="1.25"/>
<text x="306.20" y="448.95" font-size="11.35" text-anchor="end" fill="#1e1c1d" >0</text>
<line x1="306.60" y1="395.80" x2="310.50" y2="395.80" stroke="#242424" stroke-width="1.25"/>
<text x="306.20" y="398.75" font-size="11.35" text-anchor="end" fill="#1e1c1d" >5</text>
<line x1="306.60" y1="345.60" x2="310.50" y2="345.60" stroke="#242424" stroke-width="1.25"/>
<text x="306.20" y="348.55" font-size="11.35" text-anchor="end" fill="#1e1c1d" >10</text>
<line x1="306.60" y1="295.40" x2="310.50" y2="295.40" stroke="#242424" stroke-width="1.25"/>
<text x="306.20" y="298.35" font-size="11.35" text-anchor="end" fill="#1e1c1d" >15</text>
<text transform="translate(290.60,372.90) rotate(-90)" font-size="13.5" text-anchor="middle" fill="#1e1c1d">APs/1000 ms</text>
<polyline points="322.40,446.00 322.40,350.62 343.60,350.62 343.60,446.00" fill="none" stroke="#231f20" stroke-width="1.2" stroke-linejoin="round" stroke-linejoin="miter"/>
<line x1="333.00" y1="446.00" x2="333.00" y2="449.00" stroke="#242424" stroke-width="1.25"/>
<circle cx="333.00" cy="325.52" r="2.0" fill="none" stroke="#231f20" stroke-width="1.1"/>
<circle cx="333.00" cy="335.56" r="2.0" fill="none" stroke="#231f20" stroke-width="1.1"/>
<circle cx="325.40" cy="345.60" r="2.0" fill="none" stroke="#231f20" stroke-width="1.1"/>
<circle cx="333.00" cy="345.60" r="2.0" fill="none" stroke="#231f20" stroke-width="1.1"/>
<circle cx="339.90" cy="345.60" r="2.0" fill="none" stroke="#231f20" stroke-width="1.1"/>
<circle cx="329.00" cy="355.64" r="2.0" fill="none" stroke="#231f20" stroke-width="1.1"/>
<circle cx="336.60" cy="355.64" r="2.0" fill="none" stroke="#231f20" stroke-width="1.1"/>
<circle cx="333.00" cy="365.68" r="2.0" fill="none" stroke="#231f20" stroke-width="1.1"/>
<circle cx="333.00" cy="375.72" r="2.0" fill="none" stroke="#231f20" stroke-width="1.1"/>
<line x1="333.00" y1="345.10" x2="333.00" y2="355.14" stroke="#231f20" stroke-width="1.2"/>
<line x1="327.70" y1="345.10" x2="338.30" y2="345.10" stroke="#231f20" stroke-width="1.2"/>
<line x1="327.70" y1="355.14" x2="338.30" y2="355.14" stroke="#231f20" stroke-width="1.2"/>
<polyline points="355.40,446.00 355.40,393.59 376.40,393.59 376.40,446.00" fill="none" stroke="#e83c4a" stroke-width="1.2" stroke-linejoin="round" stroke-linejoin="miter"/>
<line x1="365.90" y1="446.00" x2="365.90" y2="449.00" stroke="#242424" stroke-width="1.25"/>
<circle cx="366.00" cy="365.68" r="2.0" fill="none" stroke="#e83c4a" stroke-width="1.1"/>
<circle cx="366.00" cy="375.72" r="2.0" fill="none" stroke="#e83c4a" stroke-width="1.1"/>
<circle cx="366.00" cy="385.76" r="2.0" fill="none" stroke="#e83c4a" stroke-width="1.1"/>
<circle cx="358.60" cy="395.80" r="2.0" fill="none" stroke="#e83c4a" stroke-width="1.1"/>
<circle cx="366.00" cy="395.80" r="2.0" fill="none" stroke="#e83c4a" stroke-width="1.1"/>
<circle cx="373.00" cy="395.80" r="2.0" fill="none" stroke="#e83c4a" stroke-width="1.1"/>
<circle cx="362.40" cy="405.84" r="2.0" fill="none" stroke="#e83c4a" stroke-width="1.1"/>
<circle cx="369.70" cy="405.84" r="2.0" fill="none" stroke="#e83c4a" stroke-width="1.1"/>
<circle cx="366.00" cy="415.88" r="2.0" fill="none" stroke="#e83c4a" stroke-width="1.1"/>
<line x1="365.90" y1="388.27" x2="365.90" y2="398.81" stroke="#e83c4a" stroke-width="1.2"/>
<line x1="360.60" y1="388.27" x2="371.20" y2="388.27" stroke="#e83c4a" stroke-width="1.2"/>
<line x1="360.60" y1="398.81" x2="371.20" y2="398.81" stroke="#e83c4a" stroke-width="1.2"/>
<line x1="308.10" y1="446.00" x2="388.30" y2="446.00" stroke="#242424" stroke-width="1.25"/>
<polyline points="332.60,319.30 332.60,314.20 366.70,314.20 366.70,359.50" fill="none" stroke="#242424" stroke-width="1.25" stroke-linejoin="round" stroke-linejoin="miter"/>
<text x="349.00" y="308.10" font-size="11.35" text-anchor="middle" fill="#1e1c1d" >p&lt;0.0001</text>
<text x="333.90" y="458.50" font-size="11.35" text-anchor="middle" fill="#1e1c1d" >Bath</text>
<text x="367.80" y="458.50" font-size="11.35" text-anchor="middle" fill="#1e1c1d" >Sibanin</text>
<line x1="458.90" y1="296.60" x2="458.90" y2="446.60" stroke="#242424" stroke-width="1.25"/>
<line x1="456.50" y1="446.00" x2="536.00" y2="446.00" stroke="#242424" stroke-width="1.25"/>
<text x="454.60" y="449.15" font-size="11.35" text-anchor="end" fill="#1e1c1d" >90</text>
<line x1="455.00" y1="408.95" x2="458.90" y2="408.95" stroke="#242424" stroke-width="1.25"/>
<text x="454.60" y="411.90" font-size="11.35" text-anchor="end" fill="#1e1c1d" >100</text>
<line x1="455.00" y1="371.70" x2="458.90" y2="371.70" stroke="#242424" stroke-width="1.25"/>
<text x="454.60" y="374.65" font-size="11.35" text-anchor="end" fill="#1e1c1d" >110</text>
<line x1="455.00" y1="334.45" x2="458.90" y2="334.45" stroke="#242424" stroke-width="1.25"/>
<text x="454.60" y="337.40" font-size="11.35" text-anchor="end" fill="#1e1c1d" >120</text>
<line x1="455.00" y1="297.20" x2="458.90" y2="297.20" stroke="#242424" stroke-width="1.25"/>
<text x="454.60" y="300.15" font-size="11.35" text-anchor="end" fill="#1e1c1d" >130</text>
<text transform="translate(429.60,374.30) rotate(-90)" font-size="13.5" text-anchor="middle" fill="#1e1c1d">AP Amplitude (mV)</text>
<polyline points="470.70,446.00 470.70,366.30 491.50,366.30 491.50,446.00" fill="none" stroke="#231f20" stroke-width="1.2" stroke-linejoin="round" stroke-linejoin="miter"/>
<line x1="481.10" y1="446.00" x2="481.10" y2="449.00" stroke="#242424" stroke-width="1.25"/>
<circle cx="480.80" cy="313.96" r="2.0" fill="none" stroke="#231f20" stroke-width="1.1"/>
<circle cx="480.80" cy="327.00" r="2.0" fill="none" stroke="#231f20" stroke-width="1.1"/>
<circle cx="480.80" cy="362.39" r="2.0" fill="none" stroke="#231f20" stroke-width="1.1"/>
<circle cx="477.50" cy="370.58" r="2.0" fill="none" stroke="#231f20" stroke-width="1.1"/>
<circle cx="484.60" cy="367.97" r="2.0" fill="none" stroke="#231f20" stroke-width="1.1"/>
<circle cx="480.80" cy="379.15" r="2.0" fill="none" stroke="#231f20" stroke-width="1.1"/>
<circle cx="480.80" cy="386.60" r="2.0" fill="none" stroke="#231f20" stroke-width="1.1"/>
<circle cx="477.50" cy="391.81" r="2.0" fill="none" stroke="#231f20" stroke-width="1.1"/>
<circle cx="484.60" cy="391.07" r="2.0" fill="none" stroke="#231f20" stroke-width="1.1"/>
<line x1="481.10" y1="356.80" x2="481.10" y2="375.42" stroke="#231f20" stroke-width="1.2"/>
<line x1="475.80" y1="356.80" x2="486.40" y2="356.80" stroke="#231f20" stroke-width="1.2"/>
<line x1="475.80" y1="375.42" x2="486.40" y2="375.42" stroke="#231f20" stroke-width="1.2"/>
<polyline points="503.40,446.00 503.40,372.44 524.40,372.44 524.40,446.00" fill="none" stroke="#e83c4a" stroke-width="1.2" stroke-linejoin="round" stroke-linejoin="miter"/>
<line x1="513.90" y1="446.00" x2="513.90" y2="449.00" stroke="#242424" stroke-width="1.25"/>
<circle cx="510.20" cy="330.72" r="2.0" fill="none" stroke="#e83c4a" stroke-width="1.1"/>
<circle cx="517.60" cy="328.12" r="2.0" fill="none" stroke="#e83c4a" stroke-width="1.1"/>
<circle cx="513.90" cy="366.86" r="2.0" fill="none" stroke="#e83c4a" stroke-width="1.1"/>
<circle cx="513.90" cy="371.70" r="2.0" fill="none" stroke="#e83c4a" stroke-width="1.1"/>
<circle cx="510.20" cy="382.88" r="2.0" fill="none" stroke="#e83c4a" stroke-width="1.1"/>
<circle cx="517.60" cy="382.88" r="2.0" fill="none" stroke="#e83c4a" stroke-width="1.1"/>
<circle cx="510.20" cy="394.05" r="2.0" fill="none" stroke="#e83c4a" stroke-width="1.1"/>
<circle cx="517.60" cy="395.54" r="2.0" fill="none" stroke="#e83c4a" stroke-width="1.1"/>
<circle cx="510.20" cy="398.15" r="2.0" fill="none" stroke="#e83c4a" stroke-width="1.1"/>
<line x1="513.90" y1="363.13" x2="513.90" y2="381.38" stroke="#e83c4a" stroke-width="1.2"/>
<line x1="508.60" y1="363.13" x2="519.20" y2="363.13" stroke="#e83c4a" stroke-width="1.2"/>
<line x1="508.60" y1="381.38" x2="519.20" y2="381.38" stroke="#e83c4a" stroke-width="1.2"/>
<line x1="456.50" y1="446.00" x2="536.00" y2="446.00" stroke="#242424" stroke-width="1.25"/>
<polyline points="480.80,308.00 480.80,303.70 513.60,303.70 513.60,321.50" fill="none" stroke="#242424" stroke-width="1.25" stroke-linejoin="round" stroke-linejoin="miter"/>
<text x="501.20" y="297.00" font-size="11.35" text-anchor="middle" fill="#1e1c1d" >p=0.631</text>
<text x="482.60" y="458.50" font-size="11.35" text-anchor="middle" fill="#1e1c1d" >Bath</text>
<text x="515.60" y="458.50" font-size="11.35" text-anchor="middle" fill="#1e1c1d" >Sibanin</text>
<line x1="605.40" y1="294.80" x2="605.40" y2="446.60" stroke="#242424" stroke-width="1.25"/>
<line x1="603.00" y1="446.00" x2="685.00" y2="446.00" stroke="#242424" stroke-width="1.25"/>
<text x="601.10" y="447.95" font-size="11.35" text-anchor="end" fill="#1e1c1d" >-60</text>
<line x1="601.50" y1="407.60" x2="605.40" y2="407.60" stroke="#242424" stroke-width="1.25"/>
<text x="601.10" y="410.55" font-size="11.35" text-anchor="end" fill="#1e1c1d" >-50</text>
<line x1="601.50" y1="370.20" x2="605.40" y2="370.20" stroke="#242424" stroke-width="1.25"/>
<text x="601.10" y="373.15" font-size="11.35" text-anchor="end" fill="#1e1c1d" >-40</text>
<line x1="601.50" y1="332.80" x2="605.40" y2="332.80" stroke="#242424" stroke-width="1.25"/>
<text x="601.10" y="335.75" font-size="11.35" text-anchor="end" fill="#1e1c1d" >-30</text>
<line x1="601.50" y1="295.40" x2="605.40" y2="295.40" stroke="#242424" stroke-width="1.25"/>
<text x="601.10" y="298.35" font-size="11.35" text-anchor="end" fill="#1e1c1d" >-20</text>
<text transform="translate(578.20,370.80) rotate(-90)" font-size="13.5" text-anchor="middle" fill="#1e1c1d">RMP (mV)</text>
<polyline points="617.50,446.00 617.50,351.13 638.60,351.13 638.60,446.00" fill="none" stroke="#231f20" stroke-width="1.2" stroke-linejoin="round" stroke-linejoin="miter"/>
<line x1="628.05" y1="446.00" x2="628.05" y2="449.00" stroke="#242424" stroke-width="1.25"/>
<circle cx="628.00" cy="321.58" r="2.0" fill="none" stroke="#231f20" stroke-width="1.1"/>
<circle cx="628.00" cy="329.81" r="2.0" fill="none" stroke="#231f20" stroke-width="1.1"/>
<circle cx="628.00" cy="335.04" r="2.0" fill="none" stroke="#231f20" stroke-width="1.1"/>
<circle cx="628.00" cy="341.03" r="2.0" fill="none" stroke="#231f20" stroke-width="1.1"/>
<circle cx="628.00" cy="351.50" r="2.0" fill="none" stroke="#231f20" stroke-width="1.1"/>
<circle cx="628.00" cy="358.61" r="2.0" fill="none" stroke="#231f20" stroke-width="1.1"/>
<circle cx="628.00" cy="362.72" r="2.0" fill="none" stroke="#231f20" stroke-width="1.1"/>
<circle cx="628.00" cy="372.07" r="2.0" fill="none" stroke="#231f20" stroke-width="1.1"/>
<circle cx="628.00" cy="384.41" r="2.0" fill="none" stroke="#231f20" stroke-width="1.1"/>
<line x1="628.05" y1="343.83" x2="628.05" y2="357.86" stroke="#231f20" stroke-width="1.2"/>
<line x1="622.75" y1="343.83" x2="633.35" y2="343.83" stroke="#231f20" stroke-width="1.2"/>
<line x1="622.75" y1="357.86" x2="633.35" y2="357.86" stroke="#231f20" stroke-width="1.2"/>
<polyline points="650.70,446.00 650.70,351.50 671.90,351.50 671.90,446.00" fill="none" stroke="#e83c4a" stroke-width="1.2" stroke-linejoin="round" stroke-linejoin="miter"/>
<line x1="661.30" y1="446.00" x2="661.30" y2="449.00" stroke="#242424" stroke-width="1.25"/>
<circle cx="661.40" cy="325.69" r="2.0" fill="none" stroke="#e83c4a" stroke-width="1.1"/>
<circle cx="661.40" cy="332.43" r="2.0" fill="none" stroke="#e83c4a" stroke-width="1.1"/>
<circle cx="661.40" cy="336.54" r="2.0" fill="none" stroke="#e83c4a" stroke-width="1.1"/>
<circle cx="661.40" cy="341.40" r="2.0" fill="none" stroke="#e83c4a" stroke-width="1.1"/>
<circle cx="661.40" cy="353.74" r="2.0" fill="none" stroke="#e83c4a" stroke-width="1.1"/>
<circle cx="661.40" cy="356.74" r="2.0" fill="none" stroke="#e83c4a" stroke-width="1.1"/>
<circle cx="661.40" cy="362.72" r="2.0" fill="none" stroke="#e83c4a" stroke-width="1.1"/>
<circle cx="661.40" cy="370.95" r="2.0" fill="none" stroke="#e83c4a" stroke-width="1.1"/>
<circle cx="661.40" cy="381.42" r="2.0" fill="none" stroke="#e83c4a" stroke-width="1.1"/>
<line x1="661.30" y1="345.14" x2="661.30" y2="357.48" stroke="#e83c4a" stroke-width="1.2"/>
<line x1="656.00" y1="345.14" x2="666.60" y2="345.14" stroke="#e83c4a" stroke-width="1.2"/>
<line x1="656.00" y1="357.48" x2="666.60" y2="357.48" stroke="#e83c4a" stroke-width="1.2"/>
<line x1="603.00" y1="446.00" x2="685.00" y2="446.00" stroke="#242424" stroke-width="1.25"/>
<polyline points="628.00,316.00 628.00,310.70 661.40,310.70 661.40,320.00" fill="none" stroke="#242424" stroke-width="1.25" stroke-linejoin="round" stroke-linejoin="miter"/>
<text x="643.30" y="304.30" font-size="11.35" text-anchor="middle" fill="#1e1c1d" >p=0.960</text>
<text x="629.40" y="458.50" font-size="11.35" text-anchor="middle" fill="#1e1c1d" >Bath</text>
<text x="662.80" y="458.50" font-size="11.35" text-anchor="middle" fill="#1e1c1d" >Sibanin</text>
<text x="94.50" y="543.50" font-size="14.3" text-anchor="middle" fill="#1e1c1d" >DRG-K</text>
<text x="291.80" y="543.50" font-size="14.3" text-anchor="middle" fill="#1e1c1d" >DRG-Ca</text>
<text x="447.00" y="543.30" font-size="14.3" text-anchor="middle" fill="#1e1c1d" >DRG-Na</text>
<path d="M23.20,613.60 L55.50,613.60 L56.10,605.50 L56.70,594.50 L57.30,585.50 L58.00,578.00 L58.90,573.00 L60.00,569.80 L61.40,567.70 L63.20,566.30 L65.70,565.10 L69.00,563.90 L75.70,562.70 L90.00,562.20 L108.40,562.10 L126.90,562.50 L127.50,563.60 L127.70,600.00 L127.80,640.30 L127.95,630.00 L128.20,621.80 L128.90,619.80 L130.00,618.50 L131.00,617.60 L134.00,616.20 L138.20,615.30 L143.00,614.90 L149.20,614.60 L163.30,614.30" fill="none" stroke="#858585" stroke-width="1.15" stroke-linejoin="round" stroke-linecap="round"/>
<path d="M23.20,614.10 L55.50,614.10 L56.10,606.00 L56.70,595.00 L57.30,586.00 L58.00,578.50 L58.90,573.50 L60.00,570.30 L61.40,568.20 L63.20,566.80 L65.70,565.60 L69.00,564.40 L75.70,563.20 L90.00,562.70 L108.40,562.60 L126.90,563.00 L127.50,563.60 L127.70,600.00 L127.80,640.30 L127.95,630.00 L128.20,621.80 L128.90,619.80 L130.00,618.50 L131.00,617.60 L134.00,616.20 L138.20,615.30 L143.00,614.90 L149.20,614.60 L163.30,614.30" fill="none" stroke="#ca6564" stroke-width="1.15" stroke-linejoin="round" stroke-linecap="round"/>
<line x1="132.20" y1="567.10" x2="141.10" y2="567.10" stroke="#9a9a9a" stroke-width="1.05"/>
<text x="147.30" y="571.90" font-size="14.3" text-anchor="start" fill="#1e1c1d" >Bath</text>
<line x1="132.20" y1="587.90" x2="141.10" y2="587.90" stroke="#d48d8c" stroke-width="1.05"/>
<text x="147.30" y="594.30" font-size="14.3" text-anchor="start" fill="#1e1c1d" >Sibanin</text>
<path d="M231.00,569.00 L255.10,569.00 L255.40,562.00 L255.60,559.70 L255.90,566.00 L256.60,590.00 L257.40,610.00 L258.30,619.00 L259.40,621.80 L259.54,621.74 L259.71,621.68 L259.92,621.60 L260.19,621.49 L260.55,621.32 L261.00,621.10 L261.55,620.80 L262.19,620.43 L262.91,620.01 L263.70,619.57 L264.57,619.13 L265.50,618.70 L266.52,618.29 L267.63,617.88 L268.81,617.46 L270.04,617.04 L271.31,616.62 L272.60,616.20 L273.92,615.77 L275.28,615.33 L276.68,614.89 L278.11,614.45 L279.55,614.02 L281.00,613.60 L282.48,613.19 L283.99,612.79 L285.52,612.40 L287.05,612.02 L288.55,611.65 L290.00,611.30 L291.37,610.97 L292.68,610.66 L293.96,610.36 L295.25,610.07 L296.59,609.79 L298.00,609.50 L299.51,609.21 L301.09,608.91 L302.71,608.62 L304.36,608.34 L305.99,608.06 L307.60,607.80 L309.17,607.55 L310.72,607.30 L312.26,607.07 L313.81,606.84 L315.39,606.62 L317.00,606.40 L318.77,606.17 L320.72,605.94 L322.69,605.71 L324.53,605.50 L326.08,605.33 L327.20,605.20" fill="none" stroke="#858585" stroke-width="1.15" stroke-linejoin="round" stroke-linecap="round"/>
<path d="M231.00,569.00 L255.10,569.00 L255.40,562.00 L255.60,559.70 L255.90,566.00 L256.60,590.00 L257.40,610.00 L257.70,616.60 L257.82,616.59 L257.97,616.59 L258.16,616.58 L258.39,616.54 L258.67,616.46 L259.00,616.30 L259.38,616.05 L259.79,615.73 L260.25,615.35 L260.77,614.95 L261.35,614.56 L262.00,614.20 L262.75,613.87 L263.60,613.55 L264.51,613.23 L265.45,612.92 L266.39,612.61 L267.30,612.30 L268.15,612.00 L268.95,611.70 L269.76,611.40 L270.60,611.10 L271.54,610.80 L272.60,610.50 L273.81,610.19 L275.15,609.87 L276.57,609.54 L278.04,609.22 L279.53,608.91 L281.00,608.60 L282.48,608.30 L283.99,608.01 L285.52,607.73 L287.05,607.44 L288.55,607.17 L290.00,606.90 L291.37,606.64 L292.68,606.38 L293.96,606.13 L295.25,605.89 L296.59,605.64 L298.00,605.40 L299.51,605.16 L301.09,604.91 L302.71,604.67 L304.36,604.43 L305.99,604.21 L307.60,604.00 L309.17,603.81 L310.72,603.63 L312.26,603.46 L313.81,603.30 L315.39,603.15 L317.00,603.00 L318.77,602.85 L320.72,602.69 L322.69,602.54 L324.53,602.40 L326.08,602.28 L327.20,602.20 L327.50,610.00 L327.80,634.10 L328.10,620.00 L328.40,582.00 L328.80,573.50 L329.50,571.00 L331.00,570.50 L340.00,570.30 L352.30,570.00" fill="none" stroke="#ca6564" stroke-width="1.15" stroke-linejoin="round" stroke-linecap="round"/>
<path d="M397.20,569.50 L426.60,569.50 L426.80,562.90 L427.10,572.00 L427.60,600.00 L428.00,639.20 L428.25,628.08 L428.50,619.87 L428.75,613.69 L429.00,608.91 L429.25,605.13 L429.50,602.09 L429.75,599.58 L430.00,597.47 L430.25,595.68 L430.50,594.13 L430.75,592.77 L431.00,591.58 L431.25,590.52 L431.50,589.58 L431.75,588.73 L432.00,587.97 L432.80,585.95 L433.60,584.43 L434.40,583.24 L435.20,582.27 L436.00,581.47 L436.80,580.78 L437.60,580.18 L438.40,579.64 L439.20,579.15 L440.00,578.71 L440.80,578.29 L441.60,577.90 L442.40,577.54 L443.20,577.19 L445.20,576.42 L447.20,575.74 L449.20,575.14 L451.20,574.62 L453.20,574.16 L455.20,573.76 L457.20,573.40 L459.20,573.09 L461.20,572.81 L463.20,572.57 L465.20,572.36 L467.20,572.17 L469.20,572.00 L471.20,571.86 L473.20,571.73 L475.20,571.62 L477.20,571.52 L479.20,571.43 L481.20,571.36 L483.20,571.29 L485.20,571.23 L487.20,571.18 L489.20,571.13 L491.20,571.09" fill="none" stroke="#858585" stroke-width="1.15" stroke-linejoin="round" stroke-linecap="round"/>
<path d="M397.20,569.50 L426.60,569.50 L426.80,562.90 L427.10,572.00 L427.60,595.00 L428.00,607.80 L428.25,602.29 L428.50,598.19 L428.75,595.03 L429.00,592.51 L429.25,590.42 L429.50,588.65 L429.75,587.11 L430.00,585.75 L430.25,584.54 L430.50,583.46 L430.75,582.48 L431.00,581.59 L431.25,580.78 L431.50,580.05 L431.75,579.38 L432.00,578.77 L432.80,577.14 L433.60,575.91 L434.40,574.98 L435.20,574.27 L436.00,573.72 L436.80,573.29 L437.60,572.95 L438.40,572.68 L439.20,572.46 L440.00,572.27 L440.80,572.12 L441.60,571.98 L442.40,571.87 L443.20,571.76 L445.20,571.54 L447.20,571.36 L449.20,571.19 L451.20,571.05 L453.20,570.91 L455.20,570.79 L457.20,570.68 L459.20,570.57 L461.20,570.47 L463.20,570.38 L465.20,570.30 L467.20,570.22 L469.20,570.15 L471.20,570.08 L473.20,570.02 L475.20,569.96 L477.20,569.90 L479.20,569.85 L481.20,569.81 L483.20,569.76 L485.20,569.72 L487.20,569.69 L489.20,569.65 L491.20,569.62 L492.20,568.40 L492.60,581.60 L493.00,574.00 L493.60,571.60 L494.50,570.60 L495.50,570.20 L500.00,570.00 L516.50,569.90" fill="none" stroke="#ca6564" stroke-width="1.15" stroke-linejoin="round" stroke-linecap="round"/>
<polyline points="33.80,646.60 33.80,635.40 50.80,635.40" fill="none" stroke="#111" stroke-width="1.25" stroke-linejoin="round" stroke-linejoin="miter"/>
<text x="26.40" y="630.10" font-size="11.3" text-anchor="start" fill="#1e1c1d" >20 ms</text>
<text x="31.40" y="646.00" font-size="11.3" text-anchor="end" fill="#1e1c1d" >0.5 nA</text>
<polyline points="235.50,646.20 235.50,636.50 253.00,636.50" fill="none" stroke="#111" stroke-width="1.25" stroke-linejoin="round" stroke-linejoin="miter"/>
<text x="226.20" y="630.30" font-size="11.3" text-anchor="start" fill="#1e1c1d" >20 ms</text>
<text x="234.70" y="645.20" font-size="11.3" text-anchor="end" fill="#1e1c1d" >0.2 nA</text>
<polyline points="404.70,646.40 404.70,637.80 420.50,637.80" fill="none" stroke="#111" stroke-width="1.25" stroke-linejoin="round" stroke-linejoin="miter"/>
<text x="393.50" y="630.90" font-size="11.3" text-anchor="start" fill="#1e1c1d" >20 ms</text>
<text x="401.20" y="645.10" font-size="11.3" text-anchor="end" fill="#1e1c1d" >0.2 nA</text>
<line x1="588.40" y1="541.24" x2="588.40" y2="608.50" stroke="#242424" stroke-width="1.25"/>
<line x1="586.20" y1="608.50" x2="685.00" y2="608.50" stroke="#242424" stroke-width="1.25"/>
<line x1="586.00" y1="541.84" x2="588.40" y2="541.84" stroke="#242424" stroke-width="1.25"/>
<line x1="586.00" y1="575.17" x2="588.40" y2="575.17" stroke="#242424" stroke-width="1.25"/>
<text x="585.70" y="544.74" font-size="11.35" text-anchor="end" fill="#1e1c1d" >100</text>
<text x="583.80" y="578.07" font-size="11.35" text-anchor="end" fill="#1e1c1d" >50</text>
<text x="581.30" y="611.40" font-size="11.35" text-anchor="end" fill="#1e1c1d" >0</text>
<text transform="translate(562.30,575.90) rotate(-90)" font-size="13.2" text-anchor="middle" fill="#1e1c1d">Normalized current (%)</text>
<polyline points="596.80,608.50 596.80,543.91 612.00,543.91 612.00,608.50" fill="none" stroke="#5f5f5f" stroke-width="1.3" stroke-linejoin="round" stroke-linejoin="miter"/>
<line x1="604.40" y1="608.50" x2="604.40" y2="610.80" stroke="#242424" stroke-width="1.25"/>
<circle cx="597.90" cy="543.90" r="1.65" fill="none" stroke="#222" stroke-width="1.05"/>
<circle cx="601.10" cy="541.40" r="1.65" fill="none" stroke="#222" stroke-width="1.05"/>
<circle cx="606.00" cy="541.40" r="1.65" fill="none" stroke="#222" stroke-width="1.05"/>
<circle cx="608.40" cy="545.00" r="1.65" fill="none" stroke="#222" stroke-width="1.05"/>
<circle cx="611.10" cy="542.80" r="1.65" fill="none" stroke="#222" stroke-width="1.05"/>
<circle cx="603.50" cy="543.20" r="1.65" fill="none" stroke="#222" stroke-width="1.05"/>
<line x1="604.40" y1="541.80" x2="604.40" y2="544.60" stroke="#222" stroke-width="1.05"/>
<line x1="600.90" y1="541.80" x2="607.90" y2="541.80" stroke="#222" stroke-width="1.05"/>
<line x1="600.90" y1="544.60" x2="607.90" y2="544.60" stroke="#222" stroke-width="1.05"/>
<polyline points="628.70,608.50 628.70,547.91 643.90,547.91 643.90,608.50" fill="none" stroke="#5f5f5f" stroke-width="1.3" stroke-linejoin="round" stroke-linejoin="miter"/>
<line x1="636.30" y1="608.50" x2="636.30" y2="610.80" stroke="#242424" stroke-width="1.25"/>
<circle cx="630.20" cy="547.80" r="1.65" fill="none" stroke="#222" stroke-width="1.05"/>
<circle cx="633.40" cy="545.30" r="1.65" fill="none" stroke="#222" stroke-width="1.05"/>
<circle cx="643.10" cy="545.00" r="1.65" fill="none" stroke="#222" stroke-width="1.05"/>
<circle cx="643.10" cy="550.10" r="1.65" fill="none" stroke="#222" stroke-width="1.05"/>
<circle cx="637.00" cy="547.60" r="1.65" fill="none" stroke="#222" stroke-width="1.05"/>
<circle cx="640.00" cy="547.30" r="1.65" fill="none" stroke="#222" stroke-width="1.05"/>
<line x1="636.30" y1="546.40" x2="636.30" y2="548.60" stroke="#222" stroke-width="1.05"/>
<line x1="632.80" y1="546.40" x2="639.80" y2="546.40" stroke="#222" stroke-width="1.05"/>
<line x1="632.80" y1="548.60" x2="639.80" y2="548.60" stroke="#222" stroke-width="1.05"/>
<polyline points="660.90,608.50 660.90,573.84 676.10,573.84 676.10,608.50" fill="none" stroke="#d39699" stroke-width="1.3" stroke-linejoin="round" stroke-linejoin="miter"/>
<line x1="668.50" y1="608.50" x2="668.50" y2="610.80" stroke="#242424" stroke-width="1.25"/>
<circle cx="668.40" cy="568.10" r="1.65" fill="none" stroke="#c96a69" stroke-width="1.05"/>
<circle cx="661.80" cy="573.40" r="1.65" fill="none" stroke="#c96a69" stroke-width="1.05"/>
<circle cx="674.90" cy="571.60" r="1.65" fill="none" stroke="#c96a69" stroke-width="1.05"/>
<circle cx="661.80" cy="577.80" r="1.65" fill="none" stroke="#c96a69" stroke-width="1.05"/>
<circle cx="674.90" cy="575.80" r="1.65" fill="none" stroke="#c96a69" stroke-width="1.05"/>
<line x1="668.50" y1="572.80" x2="668.50" y2="576.00" stroke="#c96a69" stroke-width="1.05"/>
<line x1="665.00" y1="572.80" x2="672.00" y2="572.80" stroke="#c96a69" stroke-width="1.05"/>
<line x1="665.00" y1="576.00" x2="672.00" y2="576.00" stroke="#c96a69" stroke-width="1.05"/>
<line x1="586.20" y1="608.50" x2="685.00" y2="608.50" stroke="#242424" stroke-width="1.25"/>
<text transform="translate(609.40,619.30) rotate(-45)" font-size="11.35" text-anchor="end" fill="#1e1c1d">DRG-K</text>
<text transform="translate(641.30,619.30) rotate(-45)" font-size="11.35" text-anchor="end" fill="#1e1c1d">DRG-Ca</text>
<text transform="translate(673.20,619.30) rotate(-45)" font-size="11.35" text-anchor="end" fill="#1e1c1d">DRG-Na</text>
</svg></body></html>
